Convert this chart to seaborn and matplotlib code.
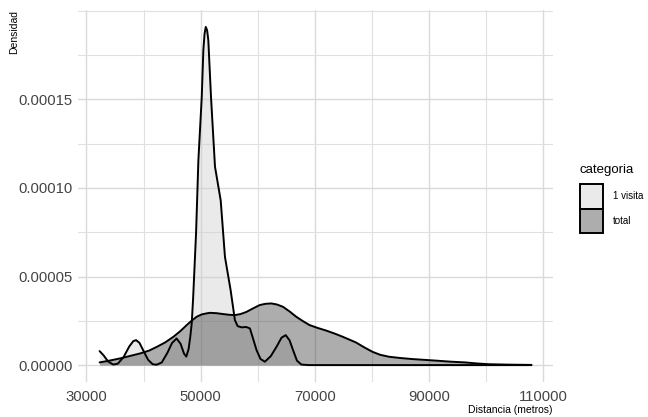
import matplotlib
matplotlib.use("Agg")
import matplotlib.pyplot as plt
from matplotlib.patches import Rectangle
from matplotlib.ticker import MultipleLocator, FuncFormatter
import seaborn as sns
import pandas as pd
import numpy as np

# ---- data (density curves) ----
visita_x = [32300, 33000, 33800, 34700, 35500, 36500, 37500, 38200, 38700, 39300,
            40000, 40800, 41600, 42300, 43200, 44200, 45000, 45800, 46500, 47100,
            47500, 47900, 48200, 48450, 48700, 49210, 49620, 50210, 50490, 50700,
            50910, 51150, 51360, 51830, 52530, 53530, 54280, 55270, 56020, 56500,
            57200, 58000, 58650, 59200, 59810, 60500, 61270, 62300, 63310, 64200,
            64930, 65600, 66210, 66900, 67670, 69000, 108000]
visita_y = [7.9e-6, 5.5e-6, 2.0e-6, 0.3e-6, 0.8e-6, 4.5e-6, 10.5e-6, 13.5e-6, 14.1e-6, 12.5e-6,
            8.0e-6, 3.0e-6, 0.5e-6, 0.2e-6, 1.5e-6, 7.0e-6, 12.5e-6, 15.0e-6, 12.0e-6, 6.5e-6,
            4.8e-6, 9.0e-6, 16.0e-6, 23.5e-6, 38.0e-6, 74.3e-6, 115.7e-6, 151.4e-6, 177.8e-6, 187.0e-6,
            190.9e-6, 189.0e-6, 183.4e-6, 151.4e-6, 112.0e-6, 93.0e-6, 61.0e-6, 42.3e-6, 25.4e-6, 22.0e-6,
            21.3e-6, 21.5e-6, 20.7e-6, 15.0e-6, 8.5e-6, 3.5e-6, 1.9e-6, 5.0e-6, 10.3e-6, 15.5e-6,
            16.9e-6, 14.0e-6, 8.5e-6, 2.5e-6, 0.3e-6, 0.0, 0.0]

total_x = [32300, 34000, 35940, 37700, 39430, 41000, 42340, 43800, 45250, 46500,
           47580, 48500, 49330, 50200, 51070, 51640, 52800, 53960, 55000, 56000,
           57000, 58040, 59200, 60380, 61400, 62420, 63400, 64450, 65600, 66770,
           68000, 69100, 70500, 72010, 73500, 74910, 76000, 77230, 78700, 80140,
           81500, 83050, 85000, 87120, 89500, 91780, 94000, 96430, 98500, 100500,
           104000, 108000]
total_y = [1.5e-6, 2.5e-6, 3.8e-6, 5.2e-6, 6.6e-6, 8.2e-6, 10.3e-6, 12.8e-6, 16.0e-6, 19.3e-6,
           22.6e-6, 25.2e-6, 27.3e-6, 28.6e-6, 29.2e-6, 29.5e-6, 29.3e-6, 28.8e-6, 28.4e-6, 28.2e-6,
           28.8e-6, 30.0e-6, 32.0e-6, 33.9e-6, 34.6e-6, 34.8e-6, 34.2e-6, 32.9e-6, 30.3e-6, 27.3e-6,
           24.7e-6, 22.6e-6, 21.0e-6, 19.5e-6, 17.8e-6, 16.0e-6, 14.5e-6, 12.8e-6, 10.0e-6, 7.5e-6,
           5.8e-6, 4.7e-6, 4.0e-6, 3.4e-6, 2.9e-6, 2.4e-6, 1.9e-6, 1.5e-6, 0.9e-6, 0.5e-6,
           0.25e-6, 0.1e-6]

categories = ["1 visita", "total"]
x_ticks = [30000, 50000, 70000, 90000, 110000]
y_ticks = [0.0, 0.00005, 0.00010, 0.00015]

fill_colors = {"1 visita": (0.8, 0.8, 0.8, 0.4), "total": (0.2, 0.2, 0.2, 0.4)}

df = pd.concat([
    pd.DataFrame({"Distancia": visita_x, "Densidad": visita_y, "categoria": "1 visita"}),
    pd.DataFrame({"Distancia": total_x, "Densidad": total_y, "categoria": "total"}),
], ignore_index=True)

sns.set_theme(style="whitegrid")
plt.rcParams["font.family"] = ["Liberation Sans", "DejaVu Sans"]

fig = plt.figure(figsize=(6.48, 4.17), dpi=100)
W, H = 648, 417
left, right, top, bottom = 78, 553, 10, 382
ax = fig.add_axes([left / W, 1 - bottom / H, (right - left) / W, (bottom - top) / H])
ax.set_facecolor("white")

for cat in categories:
    sub = df[df["categoria"] == cat]
    ax.fill_between(sub["Distancia"], 0, sub["Densidad"], color=fill_colors[cat], linewidth=0)

sns.lineplot(data=df, x="Distancia", y="Densidad", units="categoria", estimator=None,
             color="black", linewidth=1.4, sort=True, ax=ax, legend=False)

# ggplot-like expansion
xmin, xmax = df["Distancia"].min(), df["Distancia"].max()
xr = xmax - xmin
ax.set_xlim(xmin - 0.05 * xr, xmax + 0.05 * xr)
ymax = df["Densidad"].max()
ax.set_ylim(-0.05 * ymax, ymax * 1.05)

ax.set_xticks(x_ticks)
ax.set_yticks(y_ticks)
ax.xaxis.set_minor_locator(MultipleLocator(10000))
ax.yaxis.set_minor_locator(MultipleLocator(0.000025))
ax.yaxis.set_major_formatter(FuncFormatter(lambda v, p: f"{v:.5f}"))
ax.xaxis.set_major_formatter(FuncFormatter(lambda v, p: f"{int(round(v))}"))

ax.grid(which="major", color="#DADADA", linewidth=1.0)
ax.grid(which="minor", color="#E0E0E0", linewidth=0.8)
ax.set_axisbelow(True)
for s in ax.spines.values():
    s.set_visible(False)
ax.tick_params(axis="both", which="both", length=0, labelsize=10.7, labelcolor="#444444")
ax.tick_params(axis="x", pad=6)
ax.tick_params(axis="y", pad=4)
ax.set_xlabel("")
ax.set_ylabel("")

fig.text(14 / W, 1 - 10 / H, "Densidad", rotation=90, ha="center", va="top",
         fontsize=7.5, color="black")
fig.text(right / W, 1 - 410 / H, "Distancia (metros)", ha="right", va="center",
         fontsize=7.5, color="black")

# legend drawn manually (keys touching, like ggplot)
fig.text(580 / W, 1 - 170 / H, "categoria", ha="left", va="center", fontsize=9.5, color="black")
key_x0, key_w, key_h, key_top = 580, 23, 24.5, 184
for i, cat in enumerate(categories):
    y_top = key_top + i * key_h
    fig.add_artist(Rectangle((key_x0 / W, 1 - (y_top + key_h) / H), key_w / W, key_h / H,
                             transform=fig.transFigure, facecolor=fill_colors[cat],
                             edgecolor="black", linewidth=1.4))
    fig.text(613 / W, 1 - (y_top + key_h / 2) / H, cat, ha="left", va="center",
             fontsize=7, color="black")

fig.savefig("out.png", dpi=100)
